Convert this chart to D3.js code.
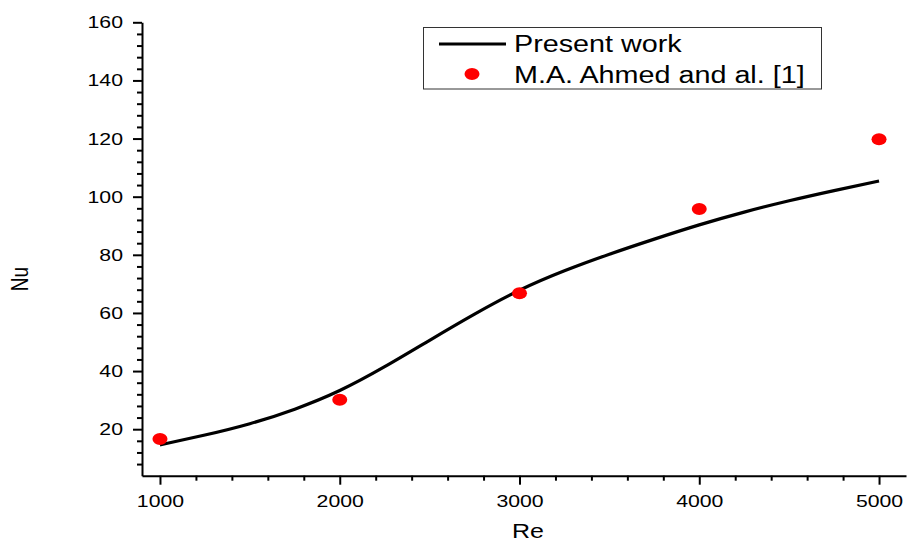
<!DOCTYPE html>
<html>
<head>
<meta charset="utf-8">
<script src="https://cdn.jsdelivr.net/npm/d3@7"></script>
<style>
  html, body { margin: 0; padding: 0; background: #fff; }
  svg { display: block; font-family: "Liberation Sans", Arial, sans-serif; }
</style>
</head>
<body>
<svg id="chart" width="909" height="545"></svg>
<script>
// Present work: computed Nusselt number vs Reynolds number
const curveRe = [1000, 1250, 1500, 1750, 2000, 2250, 2500, 2750, 3000, 3250, 3500, 3750, 4000, 4250, 4500, 4750, 5000];
const curveNu = [14.6, 18.0, 21.9, 26.9, 33.3, 41.5, 50.6, 59.6, 67.8, 74.5, 80.2, 85.4, 90.3, 94.7, 98.6, 102.1, 105.4];

// Reference data: M.A. Ahmed and al. [1]
const refRe = [1000, 2000, 3000, 4000, 5000];
const refNu = [16.6, 30.1, 66.8, 95.8, 119.8];

const xMajorTicks = [1000, 2000, 3000, 4000, 5000];
const yMajorTicks = [20, 40, 60, 80, 100, 120, 140, 160];
const legendLabels = ["Present work", "M.A. Ahmed and al. [1]"];

const svg = d3.select("#chart");
const SX = 1.25; // horizontal text stretch

const x = d3.scaleLinear().domain([900, 5150]).range([142, 906]);
const y = d3.scaleLinear().domain([4, 160]).range([475.7, 22.3]);

const xMinor = d3.range(1200, 5150, 200).filter(v => v % 1000 !== 0);
const yMinor = d3.range(8, 160, 4).filter(v => v % 20 !== 0);

// Minor ticks
svg.append("g")
  .attr("transform", `translate(0,${y(4)})`)
  .call(d3.axisBottom(x).tickValues(xMinor).tickSize(5).tickSizeOuter(0).tickFormat(""))
  .call(g => g.select(".domain").remove())
  .call(g => g.selectAll("line").attr("stroke", "#000").attr("stroke-width", 2));
svg.append("g")
  .attr("transform", `translate(${x(900)},0)`)
  .call(d3.axisLeft(y).tickValues(yMinor).tickSize(5).tickSizeOuter(0).tickFormat(""))
  .call(g => g.select(".domain").remove())
  .call(g => g.selectAll("line").attr("stroke", "#000").attr("stroke-width", 2));

// Major axes
const xAxis = svg.append("g")
  .attr("transform", `translate(0,${y(4)})`)
  .call(d3.axisBottom(x).tickValues(xMajorTicks).tickSize(9).tickSizeOuter(0).tickFormat(d3.format("d")));
xAxis.select(".domain").attr("stroke", "#000").attr("stroke-width", 2);
xAxis.selectAll("line").attr("stroke", "#000").attr("stroke-width", 2);
xAxis.selectAll("text")
  .attr("y", 19).attr("fill", "#000")
  .attr("font-size", 17)
  .attr("transform", `scale(${SX},1)`);

const yAxis = svg.append("g")
  .attr("transform", `translate(${x(900)},0)`)
  .call(d3.axisLeft(y).tickValues(yMajorTicks).tickSize(9).tickSizeOuter(0).tickFormat(d3.format("d")));
yAxis.select(".domain").attr("stroke", "#000").attr("stroke-width", 2);
yAxis.selectAll("line").attr("stroke", "#000").attr("stroke-width", 2);
yAxis.selectAll("text")
  .attr("x", 0).attr("fill", "#000")
  .attr("font-size", 17)
  .attr("transform", `translate(-19,0) scale(${SX},1)`);
xAxis.attr("font-family", null);
yAxis.attr("font-family", null);

// Axis titles
svg.append("text")
  .attr("transform", `translate(528,538) scale(${SX},1)`)
  .attr("text-anchor", "middle")
  .attr("font-size", 20)
  .text("Re");
svg.append("text")
  .attr("transform", `translate(28,279) scale(${SX},1) rotate(-90)`)
  .attr("text-anchor", "middle")
  .attr("font-size", 19)
  .text("Nu");

// Present work curve
const curvePts = curveRe.map((r, i) => [r, curveNu[i]]);
svg.append("path")
  .datum(curvePts)
  .attr("fill", "none")
  .attr("stroke", "#000")
  .attr("stroke-width", 3.2)
  .attr("d", d3.line().x(d => x(d[0])).y(d => y(d[1])).curve(d3.curveNatural));

// Reference points
svg.append("g").selectAll("ellipse")
  .data(refRe.map((r, i) => [r, refNu[i]]))
  .join("ellipse")
  .attr("cx", d => x(d[0]))
  .attr("cy", d => y(d[1]))
  .attr("rx", 7.5).attr("ry", 6)
  .attr("fill", "#ff0000");

// Legend
const lg = svg.append("g");
lg.append("rect")
  .attr("x", 423.5).attr("y", 27.5).attr("width", 398).attr("height", 61.5)
  .attr("fill", "#fff").attr("stroke", "#333").attr("stroke-width", 1);
lg.append("line")
  .attr("x1", 439).attr("x2", 506).attr("y1", 44).attr("y2", 44)
  .attr("stroke", "#000").attr("stroke-width", 3);
lg.append("ellipse")
  .attr("cx", 472).attr("cy", 74).attr("rx", 7.5).attr("ry", 6)
  .attr("fill", "#ff0000");
lg.selectAll("text.lab")
  .data(legendLabels)
  .join("text")
  .attr("class", "lab")
  .attr("transform", (d, i) => `translate(514,${i === 0 ? 52 : 83}) scale(${SX},1)`)
  .attr("font-size", 23)
  .attr("fill", "#000")
  .text(d => d);
</script>
</body>
</html>
